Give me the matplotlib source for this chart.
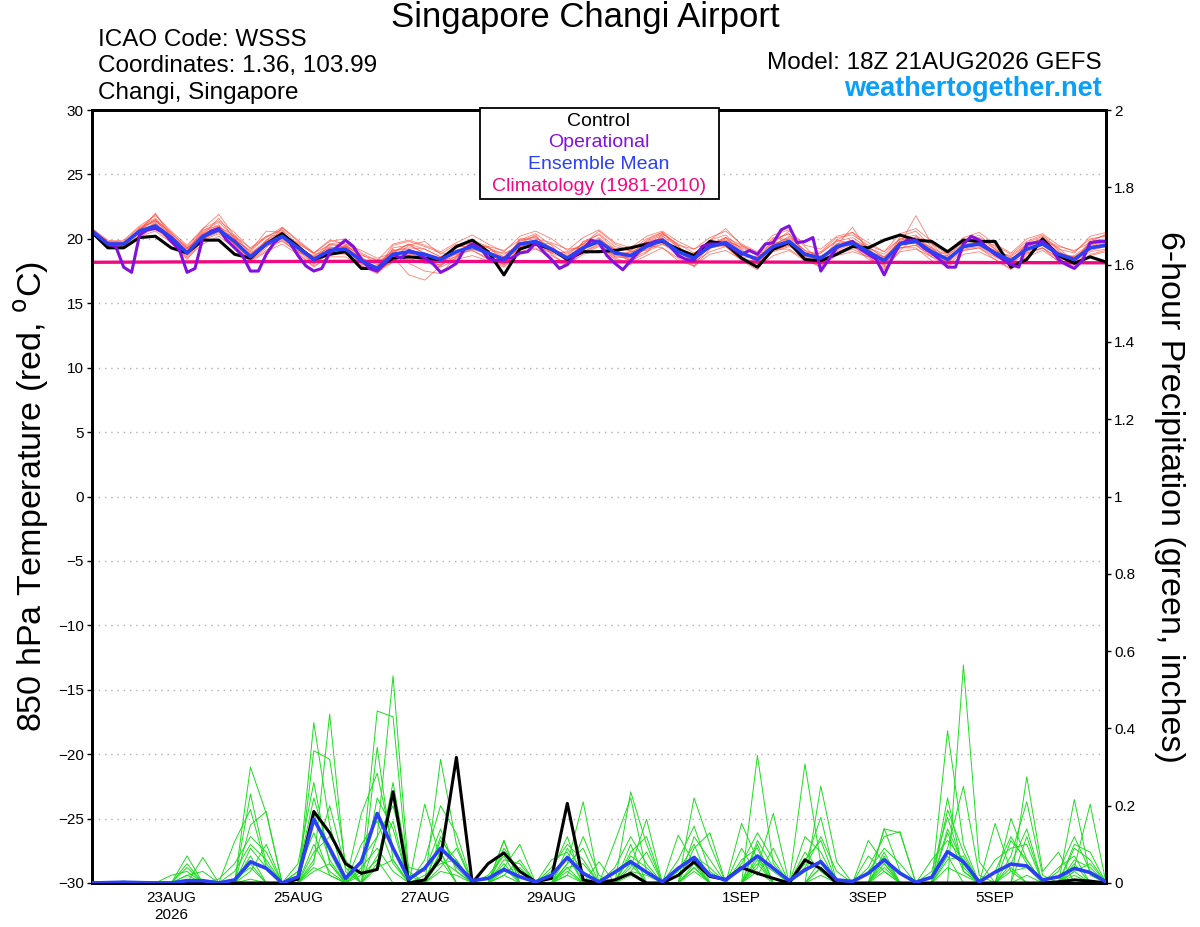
import numpy as np
import pandas as pd
import matplotlib
matplotlib.use('Agg')
import matplotlib.pyplot as plt
from matplotlib.patches import Rectangle

plt.rcParams['font.family'] = ['Liberation Sans', 'DejaVu Sans']

# ---------------- data ----------------
start = '2026-08-21 18:00'
t6 = pd.date_range(start, periods=65, freq='6h')
t3 = pd.date_range(start, periods=129, freq='3h')
tday = pd.date_range(start, periods=17, freq='D')

# 850 hPa temperature (C), 6-hourly
t_control = [20.5, 19.3, 19.3, 20.1, 20.2, 19.3, 18.9, 19.9,
             19.9, 18.8, 18.5, 19.6, 20.4, 19.4, 18.4, 18.8,
             19.0, 17.7, 17.7, 18.5, 18.6, 18.5, 18.4, 19.4,
             19.9, 19.0, 17.2, 19.2, 19.6, 19.2, 18.4, 19.0,
             19.0, 19.1, 19.3, 19.6, 19.8, 19.2, 18.7, 19.8,
             19.6, 18.5, 17.8, 19.2, 19.7, 18.4, 18.3, 18.8,
             19.4, 19.3, 19.9, 20.3, 19.9, 19.8, 19.0, 19.9,
             19.8, 19.8, 17.8, 18.4, 20.0, 18.7, 18.1, 18.6,
             18.2]
t_mean = [20.6, 19.6, 19.6, 20.6, 21.0, 20.1, 18.9, 20.2,
          20.7, 19.8, 18.6, 19.6, 20.2, 19.3, 18.4, 19.1,
          19.2, 18.3, 17.7, 18.8, 19.0, 18.8, 18.4, 19.0,
          19.4, 18.9, 18.4, 19.6, 19.8, 19.2, 18.5, 19.3,
          19.8, 18.9, 18.7, 19.4, 19.9, 19.0, 18.5, 19.4,
          19.7, 18.9, 18.4, 19.4, 19.8, 18.8, 18.5, 19.4,
          19.7, 19.0, 18.3, 19.6, 19.8, 19.0, 18.4, 19.4,
          19.6, 18.9, 18.3, 19.2, 19.6, 18.8, 18.4, 19.3,
          19.5]
# operational run, 3-hourly
t_oper = [20.6, 20.1, 19.6, 19.4, 17.8, 17.4, 20.3, 20.7,
          20.8, 20.5, 19.8, 19.2, 17.4, 17.7, 20.1, 20.6,
          20.8, 19.9, 19.3, 18.7, 17.5, 17.5, 18.8, 19.7,
          20.2, 19.7, 18.7, 17.9, 17.5, 17.7, 18.9, 19.4,
          19.9, 19.4, 18.4, 17.7, 17.5, 18.1, 18.8, 18.5,
          19.1, 18.9, 18.5, 18.1, 17.4, 17.7, 18.1, 19.2,
          19.6, 19.3, 18.5, 18.3, 18.5, 18.5, 18.9, 19.0,
          19.7, 19.0, 18.4, 17.7, 18.0, 18.7, 19.2, 19.9,
          19.7, 18.7, 18.1, 17.6, 18.3, 19.0, 19.5, 19.8,
          19.9, 19.4, 18.7, 18.4, 18.3, 19.4, 19.6, 19.6,
          19.6, 19.2, 18.8, 19.1, 18.8, 19.6, 19.7, 20.7,
          21.0, 19.7, 19.8, 20.1, 17.5, 18.4, 19.3, 19.6,
          19.8, 19.2, 18.8, 18.4, 17.2, 18.5, 19.6, 19.9,
          19.9, 19.3, 18.9, 18.4, 17.8, 17.8, 19.6, 20.2,
          19.9, 19.3, 18.8, 18.4, 18.0, 17.8, 19.6, 19.7,
          19.8, 19.3, 18.4, 18.0, 17.7, 18.3, 19.7, 19.8,
          19.8]
t_clim = [18.18, 18.2, 18.22, 18.24, 18.25, 18.25, 18.24, 18.23, 18.22,
          18.21, 18.2, 18.19, 18.18, 18.17, 18.16, 18.15, 18.14]

t_members = [
    [20.7, 19.7, 19.8, 20.9, 21.6, 20.3, 19.0, 20.6, 21.3, 20.1, 18.4, 19.9, 20.8, 19.5, 18.2, 19.6,
     19.8, 18.6, 17.4, 19.3, 19.5, 18.9, 18.1, 19.4, 19.9, 18.7, 18.0, 19.9, 20.4, 19.5, 18.2, 19.8,
     20.3, 19.2, 18.4, 19.9, 20.5, 19.3, 18.3, 19.9, 20.3, 19.2, 18.0, 19.9, 20.4, 18.9, 18.2, 19.9,
     20.5, 19.3, 17.9, 20.2, 20.6, 19.4, 18.1, 19.8, 20.3, 19.2, 17.9, 19.7, 20.2, 19.1, 18.0, 19.8, 20.0],
    [20.6, 19.5, 19.5, 20.5, 21.2, 20.0, 18.7, 20.0, 20.5, 19.6, 18.8, 19.9, 20.5, 19.0, 18.5, 19.4,
     19.0, 18.0, 17.9, 19.1, 19.3, 19.2, 18.6, 19.3, 19.7, 19.3, 18.8, 19.5, 19.6, 19.0, 18.9, 19.6,
     19.6, 18.6, 18.5, 19.0, 19.6, 18.8, 18.9, 19.7, 19.9, 19.3, 18.7, 19.1, 19.5, 18.6, 18.9, 19.8,
     20.1, 19.3, 18.6, 19.3, 19.5, 18.7, 18.7, 19.8, 20.0, 19.2, 18.5, 18.9, 19.3, 18.5, 18.7, 19.6, 19.8],
    [20.8, 19.8, 19.7, 20.7, 21.9, 20.4, 19.2, 20.3, 21.6, 20.0, 18.5, 19.8, 20.4, 19.6, 18.0, 19.3,
     19.4, 18.4, 17.6, 18.5, 18.7, 18.3, 18.2, 18.8, 19.1, 18.5, 18.1, 20.0, 20.1, 19.3, 18.2, 19.5,
     20.0, 19.1, 18.2, 19.7, 20.3, 18.8, 18.1, 19.6, 20.1, 19.1, 18.1, 19.5, 20.2, 19.1, 18.0, 19.6,
     19.9, 19.2, 17.8, 19.9, 20.1, 19.3, 18.0, 19.7, 19.9, 19.0, 17.9, 19.4, 19.9, 18.6, 18.1, 19.5, 19.9],
    [20.5, 19.6, 19.4, 20.3, 20.8, 19.8, 18.6, 19.9, 20.4, 19.4, 18.3, 19.5, 19.8, 19.0, 18.1, 18.9,
     18.8, 18.1, 17.5, 18.3, 18.9, 18.5, 17.9, 18.7, 19.2, 18.8, 18.3, 19.3, 19.5, 18.9, 18.4, 18.9,
     19.4, 18.6, 18.6, 19.2, 19.6, 19.0, 18.2, 19.0, 19.4, 18.5, 18.2, 19.1, 19.5, 18.6, 18.1, 19.0,
     19.4, 18.7, 18.1, 19.3, 19.5, 18.6, 18.2, 19.1, 19.3, 18.6, 18.0, 18.9, 19.3, 18.5, 18.1, 19.0, 19.2],
    [20.7, 19.6, 19.6, 20.8, 21.4, 20.5, 19.3, 20.4, 20.9, 20.3, 18.9, 19.7, 20.3, 19.7, 18.8, 19.0,
     19.5, 18.2, 17.7, 19.5, 19.8, 19.4, 18.9, 18.8, 19.2, 19.1, 18.9, 19.4, 19.7, 19.6, 18.8, 19.6,
     20.4, 19.4, 19.1, 19.8, 20.4, 19.6, 18.9, 19.5, 19.8, 18.6, 18.5, 19.6, 20.1, 19.1, 18.7, 19.2,
     19.8, 19.4, 18.5, 19.5, 19.9, 19.3, 18.7, 19.6, 19.7, 19.1, 18.6, 19.5, 19.9, 19.0, 18.5, 19.6, 19.7],
    [20.6, 19.6, 19.6, 20.5, 20.9, 20.2, 19.1, 20.1, 20.6, 19.6, 18.7, 19.4, 20.0, 19.0, 18.4, 19.2,
     18.9, 18.5, 18.0, 18.9, 18.8, 18.6, 18.3, 18.6, 19.6, 18.6, 18.0, 19.3, 19.9, 19.3, 18.6, 19.0,
     19.5, 18.7, 19.0, 19.1, 19.8, 19.2, 18.7, 19.3, 19.5, 18.7, 18.6, 19.3, 19.7, 18.5, 18.6, 19.1,
     19.6, 18.8, 18.5, 19.8, 19.6, 18.8, 18.6, 19.2, 19.4, 18.7, 18.5, 19.0, 19.5, 18.9, 18.6, 19.1, 19.4],
    [20.7, 19.8, 19.9, 21.0, 21.8, 20.6, 19.5, 20.8, 21.4, 20.5, 19.2, 20.1, 20.9, 19.9, 18.9, 19.8,
     20.0, 18.9, 18.3, 19.6, 19.9, 19.5, 19.0, 19.7, 20.3, 19.6, 19.0, 20.2, 20.6, 20.0, 19.1, 20.1,
     20.7, 19.7, 19.3, 20.2, 20.6, 19.8, 19.2, 20.1, 20.6, 19.6, 19.0, 20.3, 20.7, 19.5, 19.2, 20.2,
     20.5, 19.7, 19.0, 20.4, 20.8, 19.8, 19.0, 20.1, 20.5, 19.6, 18.9, 20.0, 20.4, 19.5, 19.0, 20.0, 20.2],
    [20.5, 19.4, 19.3, 20.2, 20.6, 19.7, 18.5, 19.6, 20.2, 19.3, 18.2, 19.0, 19.6, 18.8, 17.9, 18.6,
     18.6, 17.9, 17.4, 18.2, 18.4, 18.2, 17.8, 18.4, 18.7, 18.3, 17.8, 18.9, 19.2, 18.7, 18.0, 18.8,
     19.1, 18.5, 18.1, 18.7, 19.3, 18.5, 17.9, 18.8, 19.1, 18.4, 17.8, 18.7, 19.1, 18.3, 17.9, 18.7,
     19.0, 18.6, 17.7, 19.0, 19.2, 18.6, 17.8, 18.8, 19.0, 18.4, 17.7, 18.6, 19.1, 18.3, 17.9, 18.7, 19.0],
    [20.6, 19.7, 19.7, 20.7, 21.5, 20.0, 19.0, 20.8, 21.9, 20.2, 18.8, 19.6, 20.6, 19.1, 18.7, 19.3,
     18.9, 17.9, 17.3, 18.6, 17.2, 16.8, 17.9, 19.4, 19.4, 19.0, 18.6, 19.8, 20.2, 19.0, 18.6, 19.3,
     19.9, 18.8, 18.3, 19.4, 20.2, 19.4, 18.4, 19.5, 20.1, 18.9, 18.3, 20.0, 20.4, 18.8, 18.4, 19.5,
     20.9, 19.0, 18.2, 19.6, 21.8, 19.6, 18.3, 19.5, 19.8, 18.8, 18.4, 19.4, 20.1, 18.7, 18.3, 19.2, 19.7],
    [20.7, 19.6, 19.5, 20.6, 22.0, 20.1, 18.8, 20.4, 20.8, 19.9, 19.1, 20.6, 20.5, 19.4, 18.6, 18.9,
     19.4, 18.8, 18.1, 19.1, 19.2, 18.4, 18.3, 19.1, 19.4, 18.8, 18.5, 19.2, 19.7, 19.1, 18.5, 19.4,
     19.7, 18.9, 18.9, 19.7, 20.0, 19.1, 18.6, 19.3, 19.6, 18.8, 18.6, 19.5, 19.9, 18.9, 18.5, 19.6,
     19.8, 19.1, 18.4, 19.6, 19.7, 19.1, 18.5, 19.3, 19.6, 18.8, 18.3, 19.2, 19.6, 18.8, 18.6, 19.4, 19.6],
    [20.6, 19.5, 19.6, 20.4, 21.3, 19.9, 19.2, 20.5, 21.1, 19.5, 18.3, 19.3, 20.9, 19.8, 18.9, 19.9,
     19.6, 18.4, 17.8, 19.2, 18.1, 17.5, 17.3, 18.6, 19.8, 19.3, 18.6, 19.6, 20.3, 18.8, 18.0, 19.8,
     19.9, 19.2, 18.3, 18.9, 20.4, 19.5, 17.8, 19.2, 20.1, 19.5, 18.8, 19.7, 20.6, 19.4, 18.2, 18.8,
     19.2, 18.6, 17.6, 19.1, 20.2, 19.7, 18.9, 19.8, 20.1, 19.4, 18.2, 19.6, 19.9, 19.3, 18.2, 19.9, 20.3],
    [20.7, 19.7, 19.6, 20.8, 21.5, 20.4, 19.4, 20.7, 21.0, 20.0, 19.0, 20.2, 20.7, 19.2, 18.1, 18.8,
     19.5, 18.7, 18.4, 18.5, 19.5, 19.8, 18.8, 19.6, 19.1, 18.4, 17.9, 19.2, 19.5, 18.9, 19.0, 19.6,
     20.6, 19.6, 19.0, 19.5, 20.1, 18.6, 18.3, 19.9, 20.8, 19.5, 18.9, 19.0, 19.4, 18.9, 19.0, 20.1,
     20.3, 19.5, 19.0, 20.0, 20.3, 18.9, 18.9, 19.9, 19.9, 19.5, 18.8, 19.8, 20.3, 19.2, 18.9, 20.2, 20.5],
    [20.6, 19.6, 19.4, 20.5, 21.1, 19.7, 18.4, 19.9, 20.9, 19.7, 18.3, 19.1, 19.9, 18.9, 17.8, 18.7,
     19.2, 18.6, 17.6, 18.2, 18.5, 18.1, 18.0, 18.5, 19.9, 19.4, 18.3, 19.0, 19.3, 18.4, 17.9, 19.0,
     19.6, 18.4, 18.0, 19.5, 19.3, 18.3, 17.9, 19.6, 19.4, 18.3, 17.6, 19.2, 19.2, 18.4, 17.8, 19.5,
     19.5, 18.4, 18.0, 19.3, 19.3, 18.3, 17.9, 19.1, 19.3, 18.4, 17.6, 18.8, 19.3, 18.2, 17.7, 18.8, 19.1],
    [20.8, 19.9, 19.7, 20.6, 21.1, 20.2, 19.3, 20.0, 20.6, 20.2, 19.3, 20.2, 20.3, 19.6, 18.9, 19.5,
     19.6, 19.1, 18.5, 18.9, 19.6, 18.8, 18.5, 18.9, 19.5, 19.4, 19.1, 19.9, 20.0, 19.7, 19.2, 19.3,
     19.7, 19.2, 19.1, 20.0, 20.5, 19.5, 19.2, 19.8, 19.8, 19.4, 18.8, 20.1, 19.9, 18.8, 18.9, 19.9,
     19.6, 19.3, 18.8, 20.0, 20.0, 19.6, 18.8, 20.0, 19.8, 19.0, 18.7, 19.6, 20.0, 19.4, 19.1, 19.7, 20.4],
    [20.5, 19.5, 19.7, 20.7, 21.4, 20.2, 18.9, 20.3, 21.0, 19.5, 18.6, 19.8, 20.3, 19.3, 18.6, 19.6,
     19.3, 18.1, 17.5, 19.0, 19.6, 19.2, 18.6, 18.9, 19.6, 18.8, 18.2, 19.4, 19.9, 19.2, 18.7, 19.4,
     20.1, 19.0, 18.8, 19.6, 19.9, 19.1, 18.8, 19.6, 19.8, 19.0, 18.3, 19.6, 20.0, 18.9, 18.6, 19.3,
     19.9, 19.0, 18.6, 19.8, 19.9, 19.2, 18.4, 19.3, 19.7, 19.0, 18.4, 19.4, 19.8, 18.7, 18.3, 19.4, 19.8],
]

# 6-hour precipitation (inches)
p_control = [0, 0, 0, 0, 0, 0, 0, 0, 0, 0, 0, 0, 0, 0.01, 0.185, 0.13,
             0.05, 0.025, 0.035, 0.236, 0, 0.008, 0.064, 0.325, 0, 0.05, 0.078, 0.03, 0.003, 0.012, 0.206, 0.008,
             0, 0.008, 0.025, 0, 0, 0.02, 0.055, 0.017, 0.009, 0.04, 0.025, 0.012, 0, 0.06, 0.037, 0,
             0, 0, 0, 0, 0, 0, 0, 0, 0, 0, 0, 0, 0, 0.003, 0.008, 0.005, 0]
p_mean = [0, 0.001, 0.002, 0.001, 0, 0, 0.006, 0.006, 0, 0.008, 0.055, 0.038, 0, 0.016, 0.165, 0.09,
          0.012, 0.055, 0.18, 0.09, 0.01, 0.038, 0.09, 0.05, 0.006, 0.012, 0.035, 0.016, 0.003, 0.02, 0.066, 0.025,
          0.003, 0.028, 0.055, 0.028, 0.003, 0.038, 0.066, 0.02, 0.008, 0.038, 0.07, 0.038, 0.006, 0.034, 0.055, 0.008,
          0.004, 0.025, 0.06, 0.025, 0.002, 0.015, 0.081, 0.055, 0.003, 0.028, 0.049, 0.044, 0.008, 0.016, 0.038, 0.027,
          0.003]
# members: step index -> amount (other steps dry)
p_members = [
    {6: 0.07, 10: 0.30, 11: 0.18, 14: 0.05, 15: 0.437, 16: 0.03, 18: 0.12, 19: 0.536, 20: 0.02, 22: 0.08,
     26: 0.11, 30: 0.05, 31: 0.21, 34: 0.236, 35: 0.10, 38: 0.05, 42: 0.33, 43: 0.05, 46: 0.06, 50: 0.14,
     51: 0.13, 55: 0.564, 56: 0.055, 59: 0.12, 62: 0.216, 63: 0.02},
    {6: 0.05, 10: 0.23, 11: 0.05, 14: 0.415, 15: 0.15, 17: 0.03, 18: 0.445, 19: 0.43, 21: 0.204, 22: 0.06,
     26: 0.04, 27: 0.10, 29: 0.03, 30: 0.12, 34: 0.10, 37: 0.124, 38: 0.05, 41: 0.154, 42: 0.06, 45: 0.308,
     46: 0.05, 50: 0.06, 54: 0.394, 55: 0.10, 58: 0.167, 59: 0.06, 62: 0.04, 63: 0.204},
    {6: 0.04, 9: 0.107, 10: 0.19, 11: 0.04, 14: 0.342, 15: 0.32, 16: 0.05, 18: 0.351, 19: 0.06, 22: 0.32,
     23: 0.10, 26: 0.02, 27: 0.06, 30: 0.04, 31: 0.05, 33: 0.107, 34: 0.22, 35: 0.03, 38: 0.22, 39: 0.10,
     42: 0.04, 43: 0.18, 46: 0.251, 47: 0.055, 49: 0.11, 50: 0.05, 54: 0.189, 55: 0.08, 59: 0.275, 60: 0.03,
     61: 0.08},
    {7: 0.066, 10: 0.15, 11: 0.185, 13: 0.03, 14: 0.22, 15: 0.08, 17: 0.18, 18: 0.284, 19: 0.09, 21: 0.06,
     22: 0.20, 23: 0.128, 26: 0.11, 29: 0.06, 30: 0.08, 32: 0.055, 34: 0.04, 35: 0.165, 37: 0.06, 38: 0.147,
     39: 0.03, 42: 0.10, 45: 0.05, 46: 0.17, 50: 0.141, 51: 0.03, 54: 0.06, 55: 0.07, 57: 0.154, 58: 0.03,
     62: 0.09, 63: 0.06},
    {2: 0.005, 6: 0.02, 10: 0.07, 14: 0.18, 15: 0.06, 18: 0.22, 19: 0.14, 22: 0.12, 23: 0.04, 26: 0.09,
     27: 0.03, 30: 0.04, 33: 0.03, 34: 0.06, 38: 0.09, 39: 0.13, 41: 0.05, 42: 0.13, 43: 0.06, 45: 0.08,
     46: 0.03, 49: 0.04, 50: 0.12, 51: 0.133, 54: 0.14, 55: 0.05, 58: 0.11, 59: 0.06, 61: 0.04, 62: 0.07},
    {10: 0.03, 11: 0.10, 14: 0.10, 15: 0.03, 17: 0.06, 18: 0.12, 19: 0.20, 20: 0.04, 21: 0.03, 22: 0.14,
     23: 0.03, 26: 0.06, 27: 0.05, 30: 0.09, 31: 0.03, 34: 0.07, 35: 0.04, 37: 0.04, 38: 0.06, 42: 0.07,
     45: 0.12, 46: 0.08, 50: 0.07, 53: 0.03, 54: 0.17, 55: 0.04, 57: 0.06, 58: 0.09, 59: 0.10, 62: 0.03,
     63: 0.05},
    {9: 0.03, 10: 0.10, 11: 0.06, 14: 0.06, 15: 0.20, 16: 0.04, 18: 0.07, 19: 0.16, 22: 0.04, 23: 0.09,
     25: 0.02, 26: 0.07, 30: 0.02, 31: 0.12, 32: 0.02, 34: 0.03, 35: 0.08, 38: 0.04, 41: 0.09, 42: 0.02,
     43: 0.09, 46: 0.04, 49: 0.07, 50: 0.03, 54: 0.09, 55: 0.25, 56: 0.02, 58: 0.05, 59: 0.14, 61: 0.03,
     62: 0.12, 63: 0.03},
    {6: 0.01, 10: 0.05, 13: 0.03, 14: 0.13, 15: 0.02, 17: 0.04, 18: 0.09, 19: 0.03, 22: 0.08, 26: 0.03,
     27: 0.04, 30: 0.07, 34: 0.02, 37: 0.03, 38: 0.10, 42: 0.05, 45: 0.03, 46: 0.06, 50: 0.04, 54: 0.22,
     55: 0.03, 58: 0.04, 62: 0.05},
    {10: 0.01, 14: 0.03, 15: 0.05, 18: 0.04, 19: 0.06, 22: 0.03, 23: 0.02, 26: 0.02, 30: 0.03, 34: 0.05,
     38: 0.03, 42: 0.03, 46: 0.02, 50: 0.05, 54: 0.04, 55: 0.02, 59: 0.02, 62: 0.02},
    {5: 0.02, 6: 0.03, 8: 0.01, 9: 0.05, 10: 0.12, 11: 0.08, 13: 0.05, 14: 0.26, 15: 0.05, 17: 0.10,
     18: 0.16, 19: 0.05, 21: 0.02, 22: 0.05, 23: 0.06, 26: 0.05, 29: 0.04, 30: 0.10, 31: 0.06, 33: 0.04,
     34: 0.12, 35: 0.05, 38: 0.12, 39: 0.06, 41: 0.06, 42: 0.09, 45: 0.06, 46: 0.11, 49: 0.03, 50: 0.09,
     51: 0.05, 53: 0.06, 54: 0.11, 55: 0.06, 57: 0.03, 58: 0.12, 59: 0.05, 62: 0.06, 63: 0.04},
    {6: 0.02, 7: 0.03, 10: 0.09, 11: 0.04, 14: 0.08, 15: 0.12, 16: 0.06, 18: 0.05, 19: 0.26, 20: 0.03,
     22: 0.11, 23: 0.06, 26: 0.08, 27: 0.02, 30: 0.05, 31: 0.09, 34: 0.08, 35: 0.12, 37: 0.02, 38: 0.07,
     39: 0.04, 42: 0.11, 43: 0.04, 45: 0.04, 46: 0.12, 47: 0.03, 50: 0.08, 54: 0.13, 55: 0.03, 58: 0.07,
     59: 0.21, 60: 0.02, 62: 0.10, 63: 0.08},
    {9: 0.01, 10: 0.04, 14: 0.04, 15: 0.02, 17: 0.02, 18: 0.06, 22: 0.06, 23: 0.03, 26: 0.04, 30: 0.02,
     34: 0.03, 35: 0.02, 38: 0.04, 42: 0.06, 43: 0.03, 46: 0.04, 50: 0.03, 54: 0.07, 58: 0.03, 59: 0.04,
     62: 0.03},
]

tick_dates = ['2026-08-23', '2026-08-25', '2026-08-27', '2026-08-29',
              '2026-09-01', '2026-09-03', '2026-09-05']
tick_labels = ['23AUG\n2026', '25AUG', '27AUG', '29AUG', '1SEP', '3SEP', '5SEP']

# ---------------- plot ----------------
fig = plt.figure(figsize=(12, 9.27), dpi=100)
ax = fig.add_axes([92/1200, 44/927, 1014/1200, 773/927])
ax2 = ax.twinx()

for m in t_members:
    ax.plot(t6, m, color='#ff4a3a', lw=0.6, alpha=0.7, zorder=2)
ax.plot(tday, t_clim, color='#f00a80', lw=2.4, zorder=3)
ax.plot(t6, t_control, color='black', lw=2.2, zorder=4)
ax.plot(t3, t_oper, color='#8210e0', lw=2.2, zorder=5)
ax.plot(t6, t_mean, color='#2a40f5', lw=2.6, zorder=6)

for d in p_members:
    vals = np.zeros(len(t6))
    for k, v in d.items():
        vals[k] = v
    ax2.plot(t6, vals, color='#1edc1e', lw=0.7, zorder=2)
ax2.plot(t6, p_control, color='black', lw=2.2, zorder=4)
ax2.plot(t6, p_mean, color='#2a40f5', lw=2.6, zorder=6)

ax.set_xlim(pd.Timestamp(start), pd.Timestamp(start) + pd.Timedelta(days=16))
ax.set_ylim(-30, 30)
ax2.set_ylim(0, 2)
ax.set_yticks(np.arange(-30, 31, 5))
ax2.set_yticks(np.arange(0, 2.01, 0.2))
ax2.set_yticklabels(['%g' % round(v, 1) for v in np.arange(0, 2.01, 0.2)])
ax.set_xticks(pd.to_datetime(tick_dates))
ax.set_xticklabels(tick_labels)

ax.grid(axis='y', color='#b0b0b0', linestyle=(0, (1, 3.5)), lw=1.0)
ax.tick_params(axis='x', length=0, pad=6, labelsize=11)
ax.tick_params(axis='y', length=3.5, width=1, pad=2.5, labelsize=11)
ax2.tick_params(axis='y', length=3.5, width=1, pad=2.5, labelsize=11)
for a in (ax, ax2):
    for s in a.spines.values():
        s.set_linewidth(2.0)

ax.set_ylabel('850 hPa Temperature (red, $^{\\mathrm{o}}$C)', fontsize=24.5, labelpad=5)
ax2.set_ylabel('6-hour Precipitation (green, inches)', fontsize=24.5,
               rotation=270, labelpad=36)

# header text
fig.text(585/1200, 1 - 18/927, 'Singapore Changi Airport', ha='center', va='center', fontsize=25)
fig.text(98/1200, 1 - 40/927, 'ICAO Code: WSSS', ha='left', va='center', fontsize=17.5)
fig.text(98/1200, 1 - 66/927, 'Coordinates: 1.36, 103.99', ha='left', va='center', fontsize=17.5)
fig.text(98/1200, 1 - 93/927, 'Changi, Singapore', ha='left', va='center', fontsize=17.5)
fig.text(1102/1200, 1 - 63/927, 'Model: 18Z 21AUG2026 GEFS', ha='right', va='center', fontsize=17.5)
fig.text(1102/1200, 1 - 89/927, 'weathertogether.net', ha='right', va='center',
         fontsize=19.5, fontweight='bold', color='#0aa0f8')

# legend box
fig.add_artist(Rectangle((480/1200, 1 - 199/927), 239/1200, 91/927, transform=fig.transFigure,
                         facecolor='white', edgecolor='black', lw=1.3, zorder=10))
legend_items = [('Control', 'black'), ('Operational', '#8210e0'),
                ('Ensemble Mean', '#2a40f5'), ('Climatology (1981-2010)', '#f00a80')]
for i, (lab, col) in enumerate(legend_items):
    fig.text(599/1200, 1 - (121 + 21.8*i)/927, lab, ha='center', va='center',
             fontsize=14, color=col, zorder=11)

fig.savefig('out.png', dpi=100)
